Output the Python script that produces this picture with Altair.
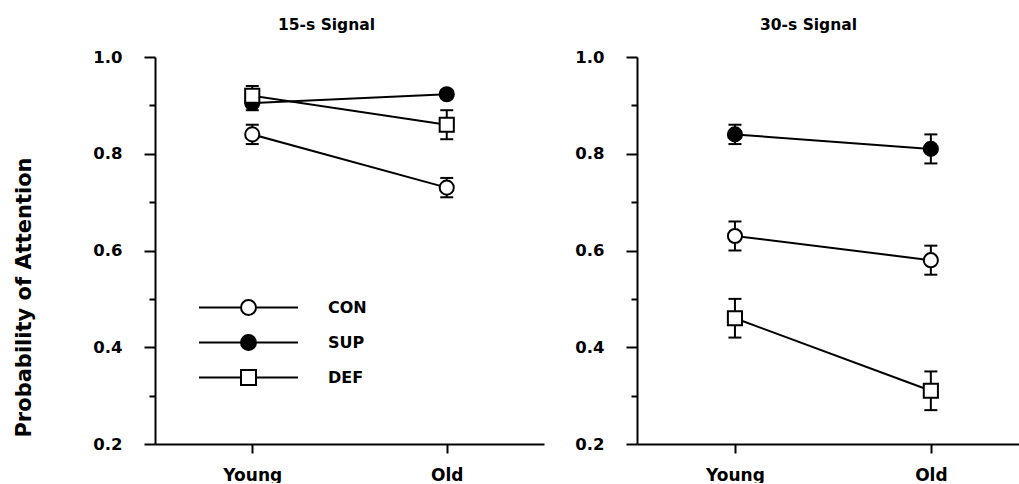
import altair as alt
import pandas as pd

FONT = "DejaVu Sans"

groups = ["CON", "SUP", "DEF"]
ages = ["Young", "Old"]
age_pos = [1, 3]
panel_titles = ["15-s Signal", "30-s Signal"]
x_domains = [[0, 4], [0, 3.9]]

mean_15 = {"CON": [0.84, 0.73], "SUP": [0.905, 0.923], "DEF": [0.92, 0.86]}
err_15 = {"CON": [0.02, 0.02], "SUP": [0.015, 0.008], "DEF": [0.02, 0.03]}
mean_30 = {"CON": [0.63, 0.58], "SUP": [0.84, 0.81], "DEF": [0.46, 0.31]}
err_30 = {"CON": [0.03, 0.03], "SUP": [0.02, 0.03], "DEF": [0.04, 0.04]}

y_ticks = [0.2, 0.3, 0.4, 0.5, 0.6, 0.7, 0.8, 0.9, 1.0]
shapes = ["circle", "circle", "square"]
fills = ["white", "black", "white"]

# legend symbols: line through a marker (unit coordinates, scaled by Vega)
LINE = "M-6.6,0L-1,0M1,0L6.6,0"
CIRCLE = "M-1,0A1,1,0,1,1,1,0A1,1,0,1,1,-1,0Z"
SQUARE = "M-1,-1L1,-1L1,1L-1,1Z"
sym_paths = {"circle": LINE + CIRCLE, "square": LINE + SQUARE}
legend_shapes = [sym_paths[s] for s in shapes]


def frame(mean, err):
    rows = []
    for g in groups:
        for i, a in enumerate(ages):
            m = mean[g][i]
            e = err[g][i]
            rows.append(dict(group=g, age=a, pos=age_pos[i], mean=m, lo=m - e, hi=m + e))
    return pd.DataFrame(rows)


x_label_expr = " : ".join(
    [f"datum.value == {p} ? '{a}'" for p, a in zip(age_pos, ages)] + ["''"]
)


def panel(df, title, xdom, width, first):
    x_axis = alt.Axis(
        values=age_pos, labelExpr=x_label_expr, title=None, grid=False,
        tickSize=9, tickWidth=2, tickColor="black", domainWidth=2, domainColor="black",
        labelFont=FONT, labelFontSize=17, labelFontWeight="bold", labelColor="black",
        labelPadding=14,
    )
    y_kwargs = dict(
        values=y_ticks, grid=False,
        labelExpr="round(datum.value*10) % 2 == 0 ? format(datum.value, '.1f') : ''",
        tickSize={"condition": {"test": "round(datum.value*10) % 2 == 1", "value": 6}, "value": 11},
        tickWidth=2, tickColor="black", domainWidth=2, domainColor="black",
        labelFont=FONT, labelFontSize=16.5, labelFontWeight="bold", labelColor="black",
        labelPadding=22,
    )
    if first:
        y_kwargs.update(
            title="Probability of Attention", titleFont=FONT, titleFontSize=21,
            titleFontWeight="bold", titleColor="black", titleX=-131, titleY=240,
            titleAngle=-90, titleAlign="center", titleBaseline="middle",
        )
    else:
        y_kwargs.update(title=None)
    y_axis = alt.Axis(**y_kwargs)

    x_enc = alt.X("pos:Q", scale=alt.Scale(domain=xdom, nice=False, zero=False), axis=x_axis)
    y_scale = alt.Scale(domain=[0.2, 1.0], nice=False, zero=False)

    base = alt.Chart(df)
    line = base.mark_line(color="black", strokeWidth=2).encode(
        x=x_enc, y=alt.Y("mean:Q", scale=y_scale, axis=y_axis), detail="group:N",
        order="pos:Q",
    )
    err = base.mark_rule(color="black", strokeWidth=2).encode(
        x=alt.X("pos:Q"), y=alt.Y("lo:Q"), y2="hi:Q"
    )
    cap_lo = base.mark_tick(orient="horizontal", size=13, thickness=2, color="black", opacity=1).encode(
        x=alt.X("pos:Q"), y=alt.Y("lo:Q")
    )
    cap_hi = base.mark_tick(orient="horizontal", size=13, thickness=2, color="black", opacity=1).encode(
        x=alt.X("pos:Q"), y=alt.Y("hi:Q")
    )
    pts = base.mark_point(stroke="black", strokeWidth=2, size=200, opacity=1).encode(
        x=alt.X("pos:Q"), y=alt.Y("mean:Q"),
        shape=alt.Shape("group:N", scale=alt.Scale(domain=groups, range=shapes), legend=None),
        fill=alt.Fill("group:N", scale=alt.Scale(domain=groups, range=fills), legend=None),
    )
    layers = [line, err, cap_lo, cap_hi, pts]
    if first:
        legend = alt.Legend(
            orient="none", legendX=85, legendY=242, title=None, symbolSize=225,
            symbolStrokeWidth=2, symbolStrokeColor="black", symbolOpacity=1,
            labelFont=FONT, labelFontSize=16, labelFontWeight="bold",
            labelColor="black", labelOffset=71, rowPadding=12, padding=0,
        )
        leg = base.mark_point(strokeWidth=2, opacity=1).encode(
            x=alt.X("pos:Q"), y=alt.Y("mean:Q"),
            shape=alt.Shape("lgroup:N", scale=alt.Scale(domain=groups, range=legend_shapes),
                            legend=legend),
            fill=alt.Fill("lgroup:N", scale=alt.Scale(domain=groups, range=fills),
                          legend=legend),
            stroke=alt.Stroke("lgroup:N", scale=alt.Scale(domain=groups, range=["black"] * len(groups)),
                              legend=legend),
        ).transform_filter("false").transform_calculate(lgroup="datum.group")
        layers.append(leg)
    ch = alt.layer(*layers)
    if first:
        ch = ch.resolve_scale(shape="independent", fill="independent", stroke="independent")
    return ch.properties(
        width=width,
        height=387,
        title=alt.TitleParams(
            title, anchor="start", dx=123, offset=4, baseline="alphabetic",
            font=FONT, fontSize=15.5, fontWeight="bold", color="black", frame="group",
        ),
    )


left = panel(frame(mean_15, err_15), panel_titles[0], x_domains[0], 389, True)
right = panel(frame(mean_30, err_30), panel_titles[1], x_domains[1], 382, False)

chart = alt.hconcat(left, right, spacing=30).resolve_scale(
    x="independent", shape="independent", fill="independent", stroke="independent"
).properties(
    padding={"left": 12, "top": 17, "right": 0, "bottom": 0},
    background="white",
).configure_view(stroke=None)

chart.save("out.html", embed_options={"renderer": "svg", "actions": False})
